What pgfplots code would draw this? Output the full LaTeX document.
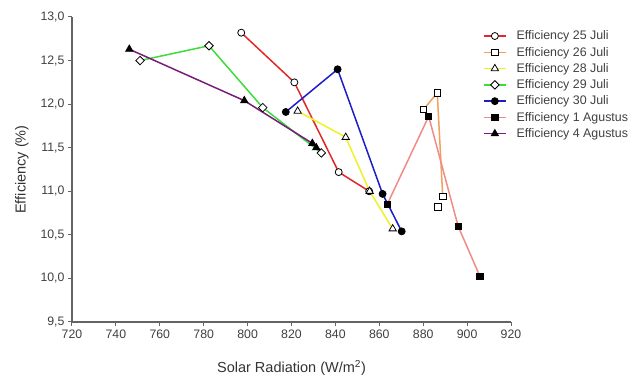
\documentclass[border=0pt]{standalone}
\usepackage{pgfplots}
\pgfplotsset{compat=1.18}
\usepackage{fontspec}
\setmainfont{Liberation Sans}
\definecolor{cred}{RGB}{225,40,40}
\definecolor{corange}{RGB}{240,160,95}
\definecolor{cyellow}{RGB}{240,240,40}
\definecolor{cgreen}{RGB}{60,220,60}
\definecolor{cblue}{RGB}{30,30,200}
\definecolor{csalmon}{RGB}{240,140,135}
\definecolor{cpurple}{RGB}{120,30,120}
\definecolor{axgray}{RGB}{100,100,100}
\begin{document}
\begin{tikzpicture}
\begin{axis}[
  scale only axis, width=439pt, height=305pt,
  xmin=720, xmax=920, ymin=9.5, ymax=13,
  axis x line*=bottom, axis y line*=left,
  xtick={720,740,...,920},
  ytick={9.5,10,...,13},
  xtick pos=bottom, ytick pos=left,
  tick align=outside, major tick length=4pt,
  axis line style={axgray, line width=1.3pt},
  tick style={axgray, line width=1pt},
  /pgf/number format/assume math mode=true,
  yticklabel style={/pgf/number format/.cd, fixed, fixed zerofill, precision=1, use comma},
  xticklabel style={/pgf/number format/.cd, fixed, precision=0, 1000 sep={}},
  ticklabel style={font=\fontsize{12.3}{14}\selectfont, text=black!75},
  xlabel={Solar Radiation (W/m\textsuperscript{2})},
  ylabel={Efficiency (\%)},
  label style={font=\fontsize{14.5}{16}\selectfont, text=black!80},
  xlabel style={at={(axis description cs:0.5,-0.151)}, anchor=center},
  ylabel style={at={(axis description cs:-0.114,0.5)}, anchor=center, rotate=0},
  legend style={draw=none, fill=none, at={(axis description cs:0.936,0.962)}, anchor=north west,
    font=\fontsize{12.4}{13}\selectfont, text=black!75, row sep=1.8pt, inner sep=0pt},
  legend cell align=left,
  legend image code/.code={\draw[mark repeat=2,mark phase=2] plot coordinates {(0pt,0pt)(11pt,0pt)(22pt,0pt)};
    \path (30pt,0pt);},
  every axis plot/.append style={line width=1.5pt},
  mark size=3.5pt,
  clip=false,
]
\addplot[cred, mark=*, mark options={fill=white, draw=black, line width=0.8pt, solid}] coordinates {
 (797.1,12.82) (821.3,12.25) (841.5,11.22) (855.4,11.00) };
\addlegendentry{Efficiency 25 Juli}
\addplot[corange, mark=square*, mark size=3.2pt, mark options={fill=white, draw=black, line width=0.8pt, solid}] coordinates {
 (880.2,11.94) (886.4,12.13) (888.9,10.94) };
\addlegendentry{Efficiency 26 Juli}
\addplot[cyellow, mark=triangle*, mark size=4.2pt, mark options={fill=white, draw=black, line width=0.8pt, solid}] coordinates {
 (822.8,11.92) (844.7,11.62) (855.6,11.00) (866.1,10.57) };
\addlegendentry{Efficiency 28 Juli}
\addplot[cgreen, mark=square*, mark size=3.0pt, mark options={fill=white, draw=black, line width=0.8pt, solid, rotate=45}] coordinates {
 (751.0,12.50) (782.4,12.67) (806.9,11.96) (833.6,11.44) };
\addlegendentry{Efficiency 29 Juli}
\addplot[cblue, mark=*, mark options={fill=black, draw=black, line width=0.8pt, solid}] coordinates {
 (817.4,11.91) (841.0,12.40) (861.5,10.97) (870.2,10.54) };
\addlegendentry{Efficiency 30 Juli}
\addplot[csalmon, mark=square*, mark size=3.2pt, mark options={fill=black, draw=black, line width=0.8pt, solid}] coordinates {
 (863.6,10.85) (882.5,11.86) (895.9,10.60) (905.9,10.02) };
\addlegendentry{Efficiency 1 Agustus}
\addplot[cpurple, mark=triangle*, mark size=4.2pt, mark options={fill=black, draw=black, line width=0.8pt, solid}] coordinates {
 (746.1,12.63) (798.5,12.04) (829.5,11.55) (831.3,11.50) };
\addlegendentry{Efficiency 4 Agustus}
\addplot[only marks, mark=square*, mark size=3.2pt, mark options={fill=white, draw=black, line width=0.8pt}, forget plot] coordinates {
 (886.7,10.82) };
\end{axis}
\pgfresetboundingbox
\useasboundingbox ([shift={(-72pt,-57pt)}]current axis.south west) rectangle ([shift={(133pt,17pt)}]current axis.north east);
\end{tikzpicture}
\end{document}
